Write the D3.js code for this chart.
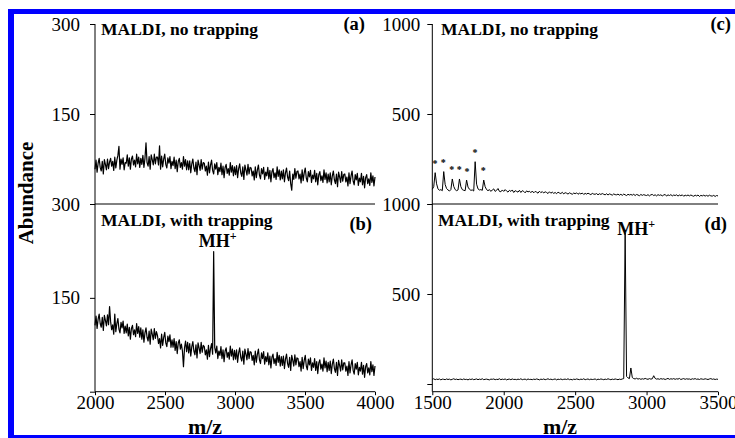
<!DOCTYPE html>
<html><head><meta charset="utf-8">
<script src="https://cdn.jsdelivr.net/npm/d3@7"></script>
<style>
body{margin:0;background:#fff;}
svg{display:block;}
</style></head><body>
<svg id="chart" width="735" height="438"></svg>
<script>
// ---------- data ----------
const panelTitles = ["MALDI, no trapping", "MALDI, with trapping", "MALDI, no trapping", "MALDI, with trapping"];
const panelTags = ["(a)", "(b)", "(c)", "(d)"];
const leftXTicks = [2000, 2500, 3000, 3500, 4000];
const rightXTicks = [1500, 2000, 2500, 3000, 3500];
const leftYTicks = [0, 150, 300];
const rightYTicks = [0, 500, 1000];
const yTitle = "Abundance";
const xTitle = "m/z";

// left spectra (a),(b): sampled m/z grid 2000..4000, 270 points
const leftStart = 2000, leftStep = 2000 / 269;
const aValues = [
58,73,53,68,76,61,55,71,50,74,66,57,75,59,70,
76,63,71,56,78,60,73,81,96,58,75,66,77,57,69,
68,82,63,77,58,75,80,65,73,62,83,67,78,61,76,
66,81,61,76,102,69,63,79,58,82,74,65,83,67,78,
78,65,97,58,80,62,75,83,66,60,77,68,79,59,71,
64,78,59,73,54,71,76,61,69,58,79,63,74,57,72,
57,72,52,67,75,60,54,70,49,73,65,56,74,58,69,
68,55,63,48,70,52,65,73,56,50,67,58,69,49,61,
54,68,49,63,44,61,66,51,59,48,69,53,64,47,62,
49,64,44,59,67,52,46,62,41,65,57,48,66,50,61,
60,47,55,40,62,44,57,65,48,42,59,50,61,41,53,
47,61,42,56,37,54,59,44,52,41,62,46,57,40,55,
42,57,37,52,60,45,39,55,34,23,50,41,59,43,54,
55,42,50,35,57,39,52,60,43,37,54,45,56,36,48,
42,56,37,51,32,49,54,39,47,36,57,41,52,35,50,
37,52,32,47,55,40,34,50,29,53,45,36,54,38,49,
50,37,45,30,52,34,47,55,38,32,49,40,51,31,43,
37,51,32,46,27,44,49,34,42,31,52,36,47,30,45];
const bValues = [
106,121,101,116,124,109,103,119,98,122,114,105,123,107,136,
112,99,107,92,124,96,109,117,100,94,111,102,113,93,105,
94,108,89,103,84,101,106,91,99,88,109,93,104,87,102,
84,99,79,94,102,87,81,97,76,100,92,83,101,85,96,
90,77,85,70,92,74,87,95,78,72,89,80,91,71,83,
71,85,66,80,61,78,83,68,76,65,40,70,81,64,79,
62,77,57,72,80,65,59,75,54,78,70,61,79,63,74,
72,59,67,52,74,56,69,77,60,224,71,62,73,53,65,
58,72,53,67,48,65,70,55,63,52,73,57,68,51,66,
52,67,47,62,70,55,49,65,44,68,60,51,69,53,64,
63,50,58,43,65,47,60,68,51,45,62,53,64,44,56,
48,62,43,57,38,55,60,45,53,42,63,47,58,41,56,
42,57,37,52,60,45,39,55,34,58,50,41,59,43,54,
53,40,48,33,55,37,50,58,41,35,52,43,54,34,46,
39,53,34,48,29,46,51,36,44,33,54,38,49,32,47,
34,49,29,44,52,37,31,47,26,50,42,33,51,35,46,
46,33,41,26,48,30,43,51,34,28,45,36,47,27,39,
33,47,28,42,23,40,45,30,38,27,48,32,43,26,41];

// right spectra (c),(d): m/z grid 1500..3500 step 10, 201 points
const rightStart = 1500, rightStep = 10;
const cValues = [
82,96,174,112,84,76,80,74,180,108,
86,78,72,80,139,98,80,74,78,139,
96,80,76,74,133,94,82,76,78,72,
235,110,84,78,80,76,133,96,80,74,
80,70,78,84,70,76,86,70,68,78,
70,80,72,66,76,70,78,64,74,70,
66,76,64,74,70,62,73,67,71,63,
72,62,70,66,60,71,63,69,61,68,
64,58,68,60,66,59,64,57,66,61,
58,65,56,63,60,55,62,58,54,61,
57,62,54,60,56,61,53,59,55,60,
56,52,59,55,54,58,51,57,53,58,
54,51,57,50,56,53,49,56,52,51,
55,49,54,48,55,51,47,54,50,53,
49,54,47,53,50,46,53,48,52,49,
47,52,45,51,53,47,51,45,52,48,
51,45,50,53,44,51,47,52,45,50,
47,51,44,50,46,51,43,49,46,50,
45,50,46,43,49,45,50,42,48,45,
49,44,48,43,49,45,44,48,42,47,45];
const dValues = [
26,29,24,27,25,28,23,27,26,24,
28,25,27,23,26,29,25,27,24,26,
27,24,28,25,26,23,27,25,28,24,
26,28,24,27,25,29,24,26,27,25,
23,27,26,28,24,26,25,29,24,27,
25,28,23,26,27,24,28,25,26,24,
27,25,29,24,26,27,23,28,25,26,
24,27,25,28,26,23,27,25,28,24,
26,29,25,27,24,26,28,23,27,25,
28,24,26,27,25,29,24,26,23,27,
25,28,26,24,27,25,29,24,26,28,
24,27,25,26,28,23,27,25,28,26,
24,27,25,29,26,24,27,25,28,26,
24,27,25,28,30,839,42,34,30,89,
36,30,28,32,27,30,26,29,27,31,
28,26,30,27,29,46,31,27,29,26,
30,27,29,25,28,31,26,29,27,30,
26,29,27,31,25,28,30,26,29,27,
28,25,29,27,30,26,28,25,29,27,
26,29,27,25,28,30,26,28,25,27,26];

// asterisk-marked peaks in (c)
const cStarMz = [1519, 1577, 1636, 1689, 1743, 1799, 1857];
const cStarLevel = [232, 239, 202, 200, 189, 294, 196];
// MH+ peaks
const bPeakMz = 2849, bPeakValue = 224;
const dPeakMz = 2850, dPeakValue = 839;

// ---------- drawing ----------
const svg = d3.select("#chart");
const FONT = "'Liberation Serif','Times New Roman',serif";
svg.attr("font-family", FONT);

const xL = d3.scaleLinear().domain([2000, 4000]).range([95, 375]);
const xR = d3.scaleLinear().domain([1500, 3500]).range([432.3, 718]);
const yA = d3.scaleLinear().domain([0, 300]).range([204, 24]);
const yB = d3.scaleLinear().domain([0, 300]).range([391.7, 204]);
const yC = d3.scaleLinear().domain([0, 1000]).range([204, 24]);
const yD = d3.scaleLinear().domain([0, 1000]).range([384, 204]);

function drawSpectrum(values, start, step, x, y, w) {
  const line = d3.line()
    .x((d, i) => x(start + i * step))
    .y(d => y(d));
  svg.append("path")
    .datum(values)
    .attr("d", line)
    .attr("fill", "none")
    .attr("stroke", "#000")
    .attr("stroke-width", w)
    .attr("stroke-linejoin", "round");
}
drawSpectrum(aValues, leftStart, leftStep, xL, yA, 1.2);
drawSpectrum(bValues, leftStart, leftStep, xL, yB, 1.2);
drawSpectrum(cValues, rightStart, rightStep, xR, yC, 1);
drawSpectrum(dValues, rightStart, rightStep, xR, yD, 1);

// y axes
function yAxis(scale, xPos, ticks, pad) {
  const g = svg.append("g")
    .attr("transform", `translate(${xPos},0)`)
    .call(d3.axisLeft(scale).tickValues(ticks).tickSize(5).tickPadding(pad)
      .tickFormat(d => d === 0 ? "" : String(d)));
  g.select(".domain").remove();
  g.attr("font-family", FONT).attr("font-size", 19);
  g.selectAll("line").attr("stroke", "#000");
  g.selectAll("text").attr("fill", "#000");
}
yAxis(yA, 95, leftYTicks, 10);
yAxis(yB, 95, leftYTicks, 10);
yAxis(yC, 432.3, rightYTicks, 7);
yAxis(yD, 432.3, rightYTicks, 7);

// x axes
function xAxis(scale, ticks) {
  const g = svg.append("g")
    .attr("transform", `translate(0,${yB(0)})`)
    .call(d3.axisBottom(scale).tickValues(ticks).tickSize(3.5).tickPadding(0).tickFormat(d => String(d)));
  g.select(".domain").remove();
  g.attr("font-family", FONT).attr("font-size", 19);
  g.selectAll("line").attr("stroke", "#000");
  g.selectAll("text").attr("fill", "#000");
}
xAxis(xL, leftXTicks);
xAxis(xR, rightXTicks);

// axis / separator lines
const axisLines = [
  [xL(2000), yA(300), xL(2000), yB(0)],
  [xL(2000), yA(0), xL(4000), yA(0)],
  [xL(2000), yB(0), xL(4000), yB(0)],
  [xR(1500), yC(1000), xR(1500), yB(0)],
  [xR(1500), yC(0), xR(3500), yC(0)],
  [xR(1500), yB(0), xR(3500), yB(0)]
];
svg.selectAll("line.ax").data(axisLines).enter().append("line")
  .attr("class", "ax")
  .attr("x1", d => d[0]).attr("y1", d => d[1])
  .attr("x2", d => d[2]).attr("y2", d => d[3])
  .attr("stroke", "#000").attr("stroke-width", 1);

// panel titles and tags
const titlePos = [[101, 34.5], [101, 226], [441, 34.5], [438, 226]];
const tagPos = [[365, 30], [372, 229.5], [731, 30], [727, 229.5]];
panelTitles.forEach((t, i) => {
  svg.append("text").attr("x", titlePos[i][0]).attr("y", titlePos[i][1])
    .attr("font-size", 17.5).attr("font-weight", "bold").attr("fill", "#000").text(t);
  svg.append("text").attr("x", tagPos[i][0]).attr("y", tagPos[i][1])
    .attr("text-anchor", "end")
    .attr("font-size", 18.5).attr("font-weight", "bold").attr("fill", "#000").text(panelTags[i]);
});

// asterisks in (c)
svg.selectAll("text.star").data(cStarMz).enter().append("text")
  .attr("class", "star")
  .attr("x", d => xR(d))
  .attr("y", (d, i) => yC(cStarLevel[i]) + 5)
  .attr("text-anchor", "middle")
  .attr("font-size", 10).attr("font-weight", "bold").attr("fill", "#000")
  .text("*");

// MH+ labels
function mhLabel(x, y) {
  const t = svg.append("text").attr("x", x).attr("y", y)
    .attr("font-size", 18).attr("font-weight", "bold").attr("fill", "#000");
  t.append("tspan").text("MH");
  t.append("tspan").attr("font-size", 12).attr("dy", -7).text("+");
}
mhLabel(xL(bPeakMz) - 15, yB(bPeakValue) - 4.5);
mhLabel(xR(dPeakMz) - 8, yD(dPeakValue) + 2);

// axis titles
svg.append("text")
  .attr("transform", "translate(33,193) rotate(-90)")
  .attr("text-anchor", "middle")
  .attr("font-size", 21).attr("font-weight", "bold").attr("fill", "#000")
  .text(yTitle);
svg.append("text").attr("x", 205).attr("y", 434).attr("text-anchor", "middle")
  .attr("font-size", 22).attr("font-weight", "bold").attr("fill", "#000").text(xTitle);
svg.append("text").attr("x", 560).attr("y", 434).attr("text-anchor", "middle")
  .attr("font-size", 22).attr("font-weight", "bold").attr("fill", "#000").text(xTitle);

// blue frame
const frame = [[8, 9, 6, 429], [8, 9, 727, 5], [8, 435, 727, 3]];
svg.selectAll("rect.frame").data(frame).enter().append("rect")
  .attr("class", "frame")
  .attr("x", d => d[0]).attr("y", d => d[1])
  .attr("width", d => d[2]).attr("height", d => d[3])
  .attr("fill", "#0000ff");
</script>
</body></html>
